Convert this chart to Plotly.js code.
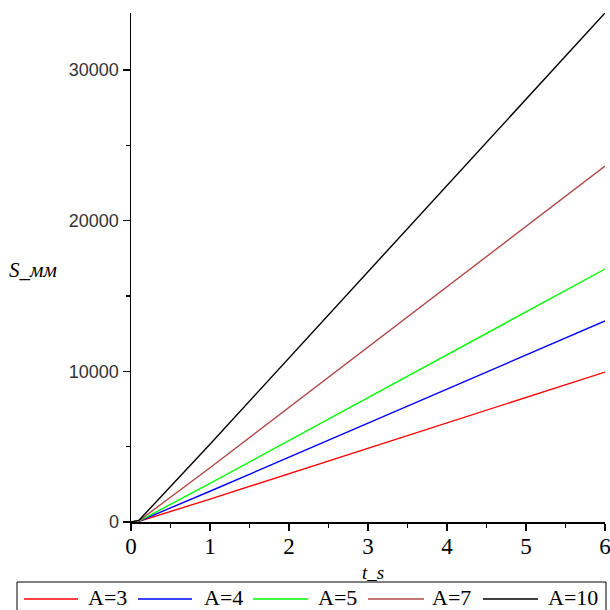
<!DOCTYPE html>
<html>
<head>
<meta charset="utf-8">
<script src="https://cdn.plot.ly/plotly-3.0.1.min.js"></script>
<style>html,body{margin:0;padding:0;background:#fff;}</style>
</head>
<body>
<div id="chart" style="width:610px;height:610px;"></div>
<script>
// Time values, s
const t = [0, 0.1, 1, 2, 3, 4, 5, 6];
// Path S, mm for each A
const sA3  = [0, 40, 1520, 3200, 4900, 6580, 8260, 9950];
const sA4  = [0, 50, 2040, 4300, 6560, 8820, 11080, 13340];
const sA5  = [0, 60, 2560, 5410, 8250, 11100, 13950, 16790];
const sA7  = [0, 80, 3600, 7610, 11610, 15610, 19620, 23620];
const sA10 = [0, 110, 5160, 10890, 16610, 22340, 28070, 33780];
const seriesNames = ["A=3", "A=4", "A=5", "A=7", "A=10"];
const seriesData = [sA3, sA4, sA5, sA7, sA10];
const seriesColors = ["#ff0000", "#0000ff", "#00ff00", "#b04848", "#000000"];

const traces = seriesData.map((s, i) => ({
  x: t, y: s, type: "scatter", mode: "lines", name: seriesNames[i],
  line: {color: seriesColors[i], width: 1.4}, showlegend: false
}));

// plot area in pixels
const L = 131, R = 605, T = 13, B = 522;
const px = v => (v - L) / (R - L);
const py = v => (B - v) / (B - T);

const serif = "Liberation Serif, Times New Roman, serif";

// hand-drawn legend (box, sample lines, labels)
const legLineX = [[24, 78], [138, 192], [253, 308], [368, 424], [483, 538]];
const legTextX = [86, 202, 316, 430, 546];
const shapes = [
  {type: "rect", xref: "paper", yref: "paper", x0: px(17), x1: px(606), y0: py(582), y1: py(640),
   line: {color: "#000", width: 1}, fillcolor: "#fff", layer: "above"}
];
const annotations = [
  {text: "<i>S_мм</i>", xref: "paper", yref: "paper", x: px(7), y: py(270),
   xanchor: "left", yanchor: "middle", showarrow: false,
   font: {family: serif, size: 21, color: "#000"}},
  {text: "<i>t_s</i>", xref: "paper", yref: "paper", x: px(373), y: py(572),
   xanchor: "center", yanchor: "middle", showarrow: false,
   font: {family: serif, size: 19, color: "#000"}}
];
seriesNames.forEach((n, i) => {
  shapes.push({type: "line", xref: "paper", yref: "paper",
    x0: px(legLineX[i][0]), x1: px(legLineX[i][1]), y0: py(599), y1: py(599),
    line: {color: seriesColors[i], width: 1.5}, layer: "above"});
  annotations.push({text: n, xref: "paper", yref: "paper", x: px(legTextX[i]), y: py(597),
    xanchor: "left", yanchor: "middle", showarrow: false,
    font: {family: serif, size: 22, color: "#000"}});
});

const layout = {
  width: 610, height: 610,
  margin: {l: L, r: 610 - R, t: T, b: 610 - B, autoexpand: false},
  paper_bgcolor: "#fff", plot_bgcolor: "#fff",
  showlegend: false,
  xaxis: {
    range: [0, 6], showgrid: false, zeroline: false,
    showline: true, linecolor: "#000", linewidth: 1.5,
    ticks: "outside", ticklen: 7, tickcolor: "#000", tickwidth: 1.5,
    dtick: 1, tick0: 0, ticklabeloverflow: "allow", ticklabelstandoff: -4,
    minor: {dtick: 0.5, ticks: "outside", ticklen: 4, tickcolor: "#000", tickwidth: 1.5},
    tickfont: {family: serif, size: 23, color: "#000"}
  },
  yaxis: {
    range: [0, 33780], showgrid: false, zeroline: false,
    showline: true, linecolor: "#000", linewidth: 1.5,
    ticks: "outside", ticklen: 7, tickcolor: "#000", tickwidth: 1.5,
    dtick: 10000, tick0: 0, tickformat: "d",
    minor: {dtick: 5000, ticks: "outside", ticklen: 4, tickcolor: "#000", tickwidth: 1.5},
    tickfont: {family: "Liberation Sans, Arial, sans-serif", size: 18, color: "#333"}
  },
  shapes: shapes,
  annotations: annotations
};

Plotly.newPlot("chart", traces, layout, {displayModeBar: false, staticPlot: true});
</script>
</body>
</html>
